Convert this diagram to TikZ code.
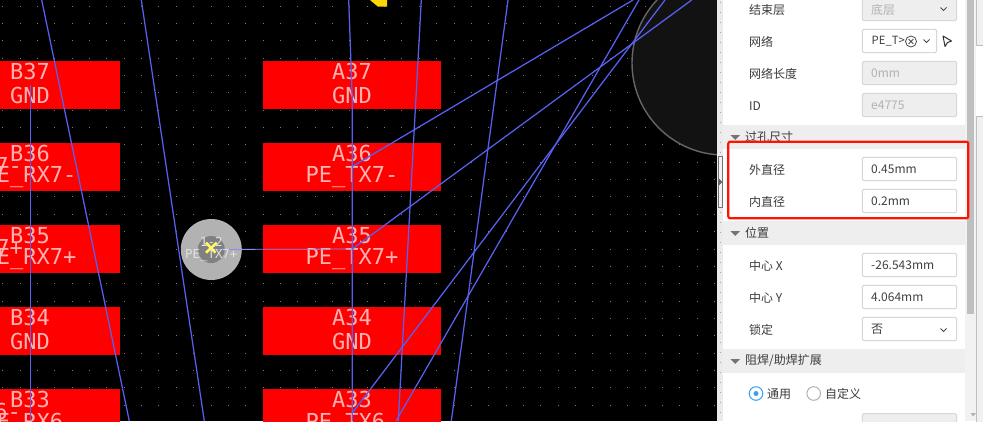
\documentclass[tikz,border=0pt]{standalone}
\usepackage{fontspec}
\setmonofont{DejaVu Sans Mono}
\newfontfamily\cjk{Noto Sans CJK SC}
\usepackage[]{xcolor}
\usetikzlibrary{positioning}
\usetikzlibrary{arrows.meta}
\definecolor{traceblue}{RGB}{88,96,240}
\definecolor{padred}{RGB}{255,0,0}
\definecolor{padtext}{RGB}{255,178,178}
\definecolor{panelhead}{RGB}{238,238,238}
\definecolor{fieldline}{RGB}{215,215,215}
\definecolor{fieldgrey}{RGB}{238,238,238}
\definecolor{labeltext}{RGB}{60,60,60}
\tikzset{padbox/.style={fill=padred,draw=none,inner sep=0pt}}
\tikzset{padlabel/.style={text=padtext,font=\ttfamily\fontsize{22}{22}\selectfont,inner sep=0pt}}
\tikzset{tracewire/.style={traceblue,line width=1.25pt}}
\tikzset{fieldbox/.style={draw=fieldline,fill=white,rounded corners=1.5pt,line width=1pt}}
\tikzset{greybox/.style={fieldbox,fill=fieldgrey}}
\tikzset{rowlabel/.style={anchor=west,inner sep=0pt,text=labeltext,font=\cjk\fontsize{12}{12}\selectfont}}
\tikzset{valuelabel/.style={rowlabel,text=black!75}}
\tikzset{greylabel/.style={rowlabel,text=black!30}}
\tikzset{chevron/.style={black!70,line width=1pt}}
\begin{document}
\begin{tikzpicture}[x=1pt,y=-1pt]
    \useasboundingbox (0,0) rectangle (983,421);
    \fill[black] (0,0) rectangle (717,421);
    \begin{scope}
        \clip (0,0) rectangle (717,421);
        % grid dots
        \foreach \i in {0,...,41}
            \foreach \j in {0,...,24}
                \fill[white!48!black] ({2.2+17.36*\i},{5.5+17.36*\j}) rectangle +(1,1);
        % big circle on the right
        \draw[fill=black!93,draw=black!60,line width=1.4pt] (724,63) circle (92);
        \fill[yellow!75!orange] (370,0) -- (378,6.7) -- (387,6.7) -- (387,0) -- cycle;
        % pads, column B and column A
        \foreach \row/\ypos/\bnet/\anet in {37/61/GND/GND,36/143/PE\_RX7-/PE\_TX7-,35/225/PE\_RX7+/PE\_TX7+,34/307/GND/GND,33/389/PE\_RX6-/PE\_TX6-}{
            \path[padbox,fill=padred] (-5,\ypos) rectangle (119.7,\ypos+48.3);
            \path[padbox,fill=padred] (263,\ypos) rectangle (441,\ypos+48.3);
            \node[padlabel] (b\row) at (30,\ypos+10.5) {B\row};
            \node[padlabel] (bn\row) at (30,\ypos+34.5) {\bnet};
            \node[padlabel] (a\row) at (352,\ypos+10.5) {A\row};
            \node[padlabel] (an\row) at (352,\ypos+34.5) {\anet};
        }
        % bits of the labels of the next row
        \node[padlabel,anchor=east] (restA) at (22,165) {7-};
        \node[padlabel,anchor=east] (restB) at (23,247) {7+};
        \node[padlabel,anchor=east] (restC) at (21,411) {6-};
        % via
        \node[circle,fill=black!30,minimum size=61pt,inner sep=0pt] (via) at (211.3,249.5) {};
        \node[circle,fill=black!50,minimum size=27pt,inner sep=0pt] (hole) at (via) {};
        \draw[traceblue!70!white,line width=0.8pt] (via.center) -- (352.3,249);
        \node[inner sep=0pt,text=black!12,font=\ttfamily\fontsize{12.4}{12.4}\selectfont] (vianum) at (211.3,242) {1-2};
        \node[inner sep=0pt,text=black!12,font=\ttfamily\fontsize{12.4}{12.4}\selectfont] (vianet) at (211.3,255) {PE\_TX7+};
        \draw[yellow!60!white,line width=2.6pt] (206,242.7) -- (215.5,252.7) (216.7,242.7) -- (206,252.7);
        % traces
        \draw[tracewire] (41.7,0) -- (129.3,421);
        \draw[tracewire] (141.3,0) -- (204.3,421);
        \draw[tracewire] (30.3,85) -- (30.3,421);
        \draw[tracewire] (348.7,0) -- (352.3,100) -- (352.3,421);
        \draw[tracewire] (352.3,166.5) -- (633,0);
        \draw[tracewire] (352.3,249) -- (408,208) -- (691.7,0);
        \draw[tracewire] (421.3,0) -- (398.3,421);
        \draw[tracewire] (508,0) -- (451.3,421);
        \draw[tracewire] (639,0) -- (396,421);
        \draw[tracewire] (665,0) -- (352.3,413);
    \end{scope}
    % panel
    \fill[white] (717,0) rectangle (983,421);
    \fill[black!8] (717,0) rectangle (722.5,421);
    \foreach \j in {0,...,41}
        \fill[black!35] (719.5,{2+10*\j}) rectangle +(1,1);
    \fill[black!5] (965,0) rectangle (976,421);
    \fill[black!25] (966.7,0) rectangle (974,313.7);
    \draw[black!25,fill=black!6] (976.5,-2) rectangle (985,45);
    \draw[black!25,fill=black!6] (976.5,116.5) rectangle (985,423);
    \fill[panelhead] (722.5,125) rectangle (965,149);
    \fill[panelhead] (722.5,221) rectangle (965,245);
    \fill[panelhead] (722.5,349) rectangle (965,372.7);
    % collapse tab
    \draw[black!55,fill=black!5,line width=0.8pt] (718.2,156.5) rectangle (722.5,207);
    \fill[black!60] (718.5,178) -- (722.3,182) -- (718.5,186) -- cycle;
    % scroll arrow
    \fill[black!30] (970.5,413) -- (976,413) -- (973.2,416.5) -- cycle;
    % fields
    \draw[greybox] (862.3,-3) rectangle (956.7,20.7);
    \draw[fieldbox] (862.3,29.3) rectangle (936.7,52.7);
    \draw[greybox] (862.3,61.3) rectangle (956.7,84.7);
    \draw[greybox] (862.3,93.3) rectangle (956.7,116.7);
    \draw[fieldbox] (862.3,157.3) rectangle (956.7,180.7);
    \draw[fieldbox] (862.3,189.3) rectangle (956.7,212.7);
    \draw[fieldbox] (862.3,253.3) rectangle (956.7,276.7);
    \draw[fieldbox] (862.3,285.3) rectangle (956.7,308.7);
    \draw[fieldbox] (862.3,317.3) rectangle (956.7,340.7);
    \draw[greybox] (862.3,413.5) rectangle (956.7,430);
    % row labels
    \node[rowlabel] (endlayer) at (749,9.6) {结束层};
    \node[rowlabel] (netname) at (749,41.6) {网络};
    \node[rowlabel] (netlen) at (749,73.6) {网络长度};
    \node[rowlabel] (idname) at (749,105.6) {ID};
    \node[rowlabel] (sizehead) at (745,136.6) {过孔尺寸};
    \node[rowlabel] (outdia) at (749,169.6) {外直径};
    \node[rowlabel] (india) at (749,201.6) {内直径};
    \node[rowlabel] (poshead) at (745,232.6) {位置};
    \node[rowlabel] (centerx) at (749,265.6) {中心 X};
    \node[rowlabel] (centery) at (749,297.6) {中心 Y};
    \node[rowlabel] (lockname) at (749,329.6) {锁定};
    \node[rowlabel] (maskhead) at (745,361) {阻焊/助焊扩展};
    \node[rowlabel] (common) at (767,394) {通用};
    \node[rowlabel] (custom) at (825,394) {自定义};
    % values
    \node[greylabel] (endval) at (871,9.6) {底层};
    \node[valuelabel,font=\cjk\fontsize{11.3}{12}\selectfont] (netval) at (871.5,41.6) {PE\_T>};
    \node[greylabel] (lenval) at (871,73.6) {0mm};
    \node[greylabel] (idval) at (871,105.6) {e4775};
    \node[valuelabel] (outval) at (871,169.6) {0.45mm};
    \node[valuelabel] (inval) at (871,201.6) {0.2mm};
    \node[valuelabel] (xval) at (871,265.6) {-26.543mm};
    \node[valuelabel] (yval) at (871,297.6) {4.064mm};
    \node[valuelabel] (lockval) at (871,329.6) {否};
    % section triangles
    \foreach \ypos in {137,233,361}
        \fill[black!55] (730.5,\ypos-1.8) -- (740,\ypos-1.8) -- (735.2,\ypos+2.8) -- cycle;
    % chevrons
    \foreach \xpos/\ypos in {943.5/9,926.5/41,943.5/330}
        \draw[chevron] (\xpos-3,\ypos-1.5) -- (\xpos,\ypos+1.5) -- (\xpos+3,\ypos-1.5);
    % clear icon and pointer
    \draw[black!70,line width=0.8pt] (911,41.5) circle (5.5);
    \draw[black!70,line width=0.8pt] (908.6,39.1) -- (913.4,43.9) (913.4,39.1) -- (908.6,43.9);
    \draw[black!80,line width=1pt,line join=round] (943,36) -- (951.5,41) -- (947.5,42.5) -- (945,46.5) -- cycle;
    % radio buttons
    \draw[traceblue!60!cyan,fill=white,line width=1pt] (756,393.5) circle (6.8);
    \fill[traceblue!60!cyan] (756,393.5) circle (2.5);
    \draw[black!30,fill=white,line width=1pt] (813.7,393.5) circle (6.8);
    % highlight box
    \draw[red!85!orange,line width=2.2pt,rounded corners=2pt] (728.3,141.7) rectangle (968.3,218.3);
\end{tikzpicture}
\end{document}
